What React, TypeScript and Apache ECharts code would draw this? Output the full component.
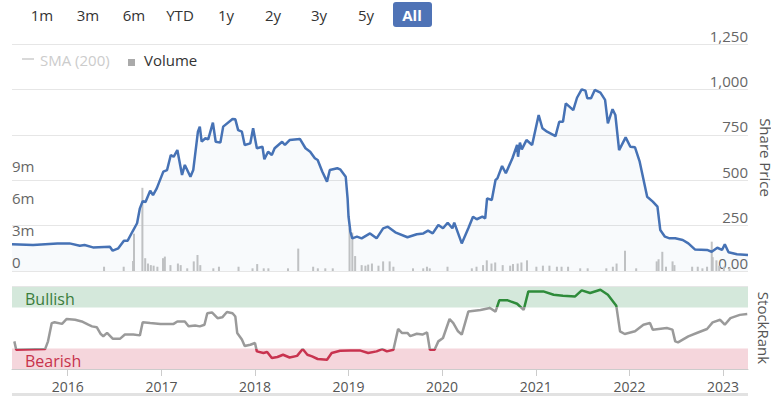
import React, { useEffect, useRef } from "react";
import * as echarts from "echarts";

// Share price (decimal year, price)
const priceDates = [
  2015.405, 2015.63, 2015.89, 2016.02, 2016.13, 2016.18, 2016.27, 2016.45, 2016.48, 2016.54,
  2016.6, 2016.64, 2016.69, 2016.74, 2016.77, 2016.8, 2016.83, 2016.88, 2016.91, 2016.95,
  2017.02, 2017.06, 2017.1, 2017.13, 2017.17, 2017.22, 2017.25, 2017.31, 2017.34, 2017.39,
  2017.41, 2017.43, 2017.47, 2017.5, 2017.55, 2017.58, 2017.63, 2017.66, 2017.76, 2017.79,
  2017.82, 2017.86, 2017.89, 2017.95, 2017.98, 2018.02, 2018.08, 2018.1, 2018.14, 2018.18,
  2018.21, 2018.29, 2018.32, 2018.37, 2018.48, 2018.54, 2018.59, 2018.64, 2018.67, 2018.72,
  2018.77, 2018.8, 2018.88, 2018.91, 2018.97, 2018.99, 2019.0, 2019.02, 2019.04, 2019.09,
  2019.14, 2019.23, 2019.3, 2019.37, 2019.42, 2019.5, 2019.63, 2019.73, 2019.8, 2019.85,
  2019.9, 2019.96, 2020.01, 2020.06, 2020.11, 2020.13, 2020.21, 2020.28, 2020.33, 2020.37,
  2020.43, 2020.46, 2020.48, 2020.53, 2020.57, 2020.59, 2020.64, 2020.68, 2020.75, 2020.8,
  2020.81, 2020.83, 2020.85, 2020.9, 2020.96, 2021.03, 2021.07, 2021.12, 2021.21, 2021.25,
  2021.29, 2021.32, 2021.4, 2021.44, 2021.49, 2021.53, 2021.55, 2021.59, 2021.63, 2021.69,
  2021.74, 2021.77, 2021.82, 2021.85, 2021.89, 2021.96, 2022.01, 2022.06, 2022.11, 2022.19,
  2022.25, 2022.3, 2022.33, 2022.38, 2022.43, 2022.49, 2022.57, 2022.63, 2022.7, 2022.83,
  2022.88, 2022.94, 2022.99, 2023.02, 2023.06, 2023.15, 2023.268,
];
const priceValues = [
  147, 143, 152, 152, 139, 143, 130, 134, 112, 125,
  167, 167, 216, 263, 345, 385, 380, 442, 418, 455,
  547, 556, 639, 629, 666, 529, 584, 519, 556, 767,
  795, 712, 731, 725, 817, 712, 707, 795, 837, 835,
  776, 767, 694, 703, 786, 676, 684, 615, 657, 639,
  676, 712, 694, 721, 727, 676, 657, 621, 611, 547,
  492, 556, 566, 560, 519, 400, 300, 216, 180, 189,
  180, 207, 180, 235, 244, 213, 186, 202, 207, 222,
  207, 253, 235, 266, 235, 266, 152, 235, 299, 285,
  299, 290, 400, 391, 501, 510, 578, 538, 621, 694,
  629, 707, 670, 721, 694, 859, 786, 767, 743, 822,
  822, 923, 886, 954, 1000, 993, 951, 951, 997, 982,
  942, 813, 891, 859, 666, 736, 684, 681, 602, 409,
  382, 354, 226, 189, 180, 180, 171, 152, 119, 116,
  106, 128, 116, 147, 103, 92, 88,
];

// Volume (decimal year, millions of shares)
const volumeDates = [
  2016.38, 2016.59, 2016.69, 2016.7, 2016.79, 2016.82, 2016.85, 2016.88, 2016.91, 2016.95,
  2017.01, 2017.03, 2017.09, 2017.17, 2017.2, 2017.27, 2017.34, 2017.38, 2017.41, 2017.55,
  2017.61, 2017.82, 2017.97, 2018.02, 2018.09, 2018.14, 2018.35, 2018.46, 2018.62, 2018.67,
  2018.75, 2018.83, 2019.01, 2019.04, 2019.07, 2019.14, 2019.18, 2019.21, 2019.25, 2019.32,
  2019.37, 2019.44, 2019.48, 2019.69, 2019.8, 2019.84, 2019.87, 2020.06, 2020.32, 2020.37,
  2020.44, 2020.48, 2020.53, 2020.57, 2020.65, 2020.73, 2020.76, 2020.81, 2020.85, 2020.91,
  2021.01, 2021.08, 2021.15, 2021.23, 2021.28, 2021.35, 2021.48, 2021.56, 2021.76, 2021.83,
  2021.87, 2021.96, 2022.08, 2022.3, 2022.32, 2022.36, 2022.4, 2022.47, 2022.49, 2022.68,
  2022.74, 2022.79, 2022.84, 2022.89, 2022.9, 2022.94, 2022.97, 2023.02, 2023.08,
];
const volumeValues = [
  0.4, 0.4, 0.94, 3.5, 7.8, 1.2, 0.7, 0.55, 0.5, 0.4,
  1.2, 1.35, 0.55, 0.7, 0.55, 0.25, 0.9, 1.5, 0.55, 0.25,
  0.4, 0.4, 0.25, 0.65, 0.25, 0.25, 0.25, 2.1, 0.4, 0.25,
  0.25, 0.25, 4.0, 3.6, 1.4, 0.55, 0.5, 0.6, 0.7, 0.5,
  0.9, 0.9, 0.4, 0.25, 0.25, 0.4, 0.25, 0.4, 0.25, 0.4,
  0.55, 1.0, 0.7, 0.8, 0.55, 0.5, 0.65, 0.7, 0.8, 1.0,
  0.4, 0.5, 0.5, 0.4, 0.4, 0.4, 0.25, 0.25, 0.25, 0.4,
  0.7, 1.9, 0.25, 0.9, 1.1, 1.8, 0.4, 0.9, 0.55, 0.4,
  0.4, 0.25, 0.4, 2.75, 1.3, 1.0, 0.5, 0.4, 0.3,
];

// StockRank (decimal year, rank 0-100)
const rankDates = [
  2015.43, 2015.45, 2015.76, 2015.79, 2015.83, 2015.86, 2015.94, 2015.99, 2016.08, 2016.15,
  2016.22, 2016.26, 2016.31, 2016.35, 2016.38, 2016.42, 2016.48, 2016.56, 2016.61, 2016.7,
  2016.77, 2016.8, 2016.88, 2016.99, 2017.13, 2017.17, 2017.25, 2017.29, 2017.36, 2017.41,
  2017.46, 2017.49, 2017.54, 2017.6, 2017.65, 2017.7, 2017.76, 2017.79, 2017.81, 2017.86,
  2017.89, 2017.95, 2018.0, 2018.02, 2018.09, 2018.13, 2018.18, 2018.24, 2018.3, 2018.37,
  2018.45, 2018.51, 2018.56, 2018.61, 2018.67, 2018.77, 2018.82, 2018.91, 2019.02, 2019.12,
  2019.21, 2019.3, 2019.36, 2019.41, 2019.48, 2019.53, 2019.57, 2019.63, 2019.66, 2019.73,
  2019.79, 2019.84, 2019.87, 2019.92, 2019.96, 2020.01, 2020.08, 2020.12, 2020.17, 2020.21,
  2020.28, 2020.41, 2020.51, 2020.57, 2020.61, 2020.7, 2020.73, 2020.8, 2020.87, 2020.92,
  2021.08, 2021.19, 2021.29, 2021.42, 2021.49, 2021.58, 2021.69, 2021.77, 2021.86, 2021.9,
  2021.95, 2022.06, 2022.15, 2022.22, 2022.25, 2022.4, 2022.46, 2022.49, 2022.52, 2022.63,
  2022.72, 2022.83, 2022.89, 2022.97, 2023.02, 2023.08, 2023.18, 2023.26,
];
const rankValues = [
  33.7, 23.5, 24.5, 33.7, 56, 57, 55, 61, 60, 58,
  54, 52, 51, 43, 40, 44, 37, 37, 42, 42,
  41, 57, 56, 55, 55, 58, 58, 52, 53, 52,
  54, 68, 69, 62, 63, 69.5, 68, 64, 44, 36,
  28, 29.6, 31.7, 21.5, 19.5, 20.7, 13.4, 14.6, 17.4, 14,
  16, 24.3, 17.4, 15.4, 12.2, 11.3, 19.5, 22.3, 22.7, 22.7,
  19.5, 21.5, 24.3, 21.5, 23.5, 48.8, 44, 44, 40, 43,
  42, 44.6, 23.5, 23.5, 33.7, 37.8, 61, 56, 46, 42,
  70, 72, 74.4, 70, 83.7, 83.7, 82.4, 79.6, 72, 94.6,
  94.6, 90.6, 89.4, 88.5, 95.9, 92.7, 96.7, 90.6, 77, 45.9,
  42.7, 46, 54, 56, 48, 50, 48, 33.7, 32.4, 39.8,
  43.9, 48.8, 56.8, 60, 54, 62, 66, 67,
];

const rangeButtons = ["1m", "3m", "6m", "YTD", "1y", "2y", "3y", "5y", "All"];
const priceTicks = { min: 0, max: 1250, interval: 250 };
const volumeTicks = { min: 0, max: 9e6, interval: 3e6 };
const rankBands = { bearishTop: 25, bullishBottom: 75, max: 100 };
const xStart = 2015.405;
const xEnd = 2023.268;

const toTs = (y: number) => {
  const yr = Math.floor(y);
  const s = Date.UTC(yr, 0, 1);
  const e = Date.UTC(yr + 1, 0, 1);
  return s + (y - yr) * (e - s);
};

const FONT = "'Open Sans', 'Noto Sans', sans-serif";

export default function App() {
  const ref = useRef<HTMLDivElement>(null);

  useEffect(() => {
    if (!ref.current) return;
    const chart = echarts.init(ref.current, undefined, { renderer: "svg" });

    const priceData = priceDates.map((d, i) => [toTs(d), priceValues[i]]);
    const volumeData = volumeDates.map((d, i) => [toTs(d), volumeValues[i] * 1e6]);
    const rankData = rankDates.map((d, i) => [toTs(d), rankValues[i]]);

    const btnX = [42, 88, 134, 180, 226, 273, 319, 366, 412];
    const buttonGraphics: any[] = [];
    rangeButtons.forEach((b, i) => {
      const active = b === "All";
      if (active) {
        buttonGraphics.push({
          type: "rect",
          shape: { x: 393, y: 2, width: 39, height: 25, r: 3 },
          style: { fill: "#4f73b6" },
        });
      }
      buttonGraphics.push({
        type: "text",
        x: btnX[i],
        y: 15,
        style: {
          text: b,
          fill: active ? "#ffffff" : "#333333",
          font: `${active ? "bold " : ""}15px ${FONT}`,
          textAlign: "center",
          textVerticalAlign: "middle",
        },
      });
    });

    const xCommon = {
      type: "time" as const,
      min: toTs(xStart),
      max: toTs(xEnd),
    };

    const gridCommon = { left: 12, right: 23, outerBoundsMode: "none", containLabel: false };
    const axisNameStyle = { fontSize: 15, lineHeight: 15, color: "#555555" };

    chart.setOption({
      animation: false,
      useUTC: true,
      textStyle: { fontFamily: FONT },
      grid: [
        { ...gridCommon, top: 44, height: 227 },
        { ...gridCommon, top: 175, height: 96 },
        { ...gridCommon, top: 287, height: 82 },
      ],
      xAxis: [
        { ...xCommon, gridIndex: 0, show: false, splitLine: { show: false } },
        { ...xCommon, gridIndex: 1, show: false, splitLine: { show: false } },
        {
          ...xCommon,
          gridIndex: 2,
          splitNumber: 8,
          axisLine: { lineStyle: { color: "#cccccc" } },
          axisTick: { length: 7, lineStyle: { color: "#cccccc" } },
          splitLine: { show: false },
          axisLabel: {
            fontSize: 14,
            color: "#555555",
            margin: 10,
            formatter: (v: number) => String(new Date(v).getUTCFullYear()),
          },
        },
      ],
      yAxis: [
        {
          type: "value",
          gridIndex: 0,
          position: "right",
          min: priceTicks.min,
          max: priceTicks.max,
          interval: priceTicks.interval,
          name: "Share Price",
          nameLocation: "middle",
          nameRotate: -90,
          nameGap: 7,
          nameTextStyle: axisNameStyle,
          axisLine: { show: false },
          axisTick: { show: false },
          splitLine: { lineStyle: { color: "#e6e6e6" } },
          axisLabel: {
            inside: true,
            margin: 0,
            verticalAlign: "bottom",
            padding: [0, 0, 1, 0],
            fontSize: 15,
            color: "#666666",
            formatter: (v: number) => (v === 0 ? "0.00" : v.toLocaleString("en-US")),
          },
        },
        {
          type: "value",
          gridIndex: 1,
          position: "left",
          min: volumeTicks.min,
          max: volumeTicks.max,
          interval: volumeTicks.interval,
          axisLine: { show: false },
          axisTick: { show: false },
          splitLine: { show: false },
          axisLabel: {
            inside: true,
            margin: 0,
            verticalAlign: "bottom",
            padding: [0, 0, 2, 0],
            fontSize: 15,
            color: "#666666",
            formatter: (v: number) => (v === 0 ? "0" : `${v / 1e6}m`),
          },
        },
        {
          type: "value",
          gridIndex: 2,
          position: "right",
          min: 0,
          max: rankBands.max,
          interval: rankBands.max,
          name: "StockRank",
          nameLocation: "middle",
          nameRotate: -90,
          nameGap: 7,
          nameTextStyle: axisNameStyle,
          axisLine: { show: false },
          axisTick: { show: false },
          splitLine: { show: false },
          axisLabel: {
            inside: true,
            margin: 3,
            verticalAlign: "bottom",
            padding: [0, 0, 1, 0],
            fontSize: 15,
            color: "#666666",
            formatter: (v: number) => (v === 0 ? "0" : ""),
          },
        },
      ],
      visualMap: {
        type: "piecewise",
        show: false,
        seriesIndex: 2,
        dimension: 1,
        pieces: [
          { lt: rankBands.bearishTop, color: "#c8334f" },
          { gte: rankBands.bearishTop, lte: rankBands.bullishBottom, color: "#9a9a9a" },
          { gt: rankBands.bullishBottom, color: "#2e8b3a" },
        ],
      },
      series: [
        {
          name: "Share Price",
          type: "line",
          xAxisIndex: 0,
          yAxisIndex: 0,
          data: priceData,
          showSymbol: false,
          z: 3,
          lineStyle: { color: "#4672b5", width: 2.5 },
          itemStyle: { color: "#4672b5" },
          areaStyle: { color: "rgba(70,114,181,0.05)" },
        },
        {
          name: "Volume",
          type: "bar",
          xAxisIndex: 1,
          yAxisIndex: 1,
          data: volumeData,
          barWidth: 2,
          z: 2,
          itemStyle: { color: "#c4c4c4" },
        },
        {
          name: "StockRank",
          type: "line",
          xAxisIndex: 2,
          yAxisIndex: 2,
          data: rankData,
          showSymbol: false,
          z: 3,
          lineStyle: { width: 2.5 },
          markArea: {
            silent: true,
            data: [
              [
                {
                  name: "Bullish",
                  yAxis: rankBands.bullishBottom,
                  itemStyle: { color: "#d4e8db" },
                  label: { color: "#3b7d3b" },
                },
                { yAxis: rankBands.max },
              ],
              [
                {
                  name: "Bearish",
                  yAxis: 0,
                  itemStyle: { color: "#f5d6dc" },
                  label: { color: "#c7324b" },
                },
                { yAxis: rankBands.bearishTop },
              ],
            ],
            label: {
              position: "insideLeft",
              fontSize: 16,
              offset: [8, 2],
            },
          },
        },
      ],
      graphic: [
        ...buttonGraphics,
        {
          type: "line",
          shape: { x1: 22, y1: 59, x2: 34, y2: 59 },
          style: { stroke: "#cccccc", lineWidth: 1.5 },
        },
        {
          type: "text",
          x: 40,
          y: 60,
          style: { text: "SMA (200)", fill: "#cccccc", font: `15px ${FONT}`, textVerticalAlign: "middle" },
        },
        {
          type: "rect",
          shape: { x: 128, y: 59, width: 7, height: 7 },
          style: { fill: "#aaaaaa" },
        },
        {
          type: "text",
          x: 144,
          y: 60,
          style: { text: "Volume", fill: "#333333", font: `15px ${FONT}`, textVerticalAlign: "middle" },
        },
        {
          type: "line",
          shape: { x1: 12, y1: 286.5, x2: 748, y2: 286.5 },
          style: { stroke: "#e6e6e6", lineWidth: 1 },
        },
        {
          type: "rect",
          shape: { x: 12, y: 393, width: 736, height: 3 },
          style: { fill: "#e2e2e2" },
        },
      ],
    });

    return () => chart.dispose();
  }, []);

  return (
    <div
      ref={ref}
      style={{ position: "absolute", left: 0, top: 0, width: 771, height: 396 }}
    />
  );
}
